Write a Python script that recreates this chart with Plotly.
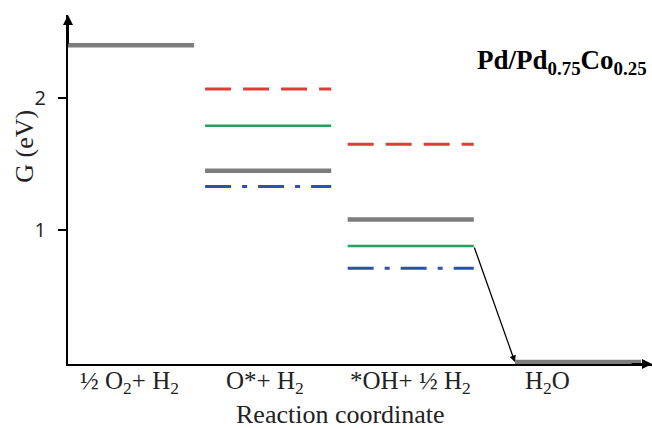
import plotly.graph_objects as go

# Reaction stages (x start of each energy level, in reaction-coordinate units)
stages = ["½ O<sub>2</sub>+ H<sub>2</sub>", "O*+ H<sub>2</sub>", "*OH+ ½ H<sub>2</sub>", "H<sub>2</sub>O"]
stage_start = [0.0, 1.0, 2.04, 3.26]
level_width = 0.92
label_pos = [0.45, 1.44, 2.50, 3.50]

# Free energies (eV) for each series
gray_vals = [2.40, 1.45, 1.08, 0.0]
red_vals = [None, 2.07, 1.65, None]
green_vals = [None, 1.79, 0.88, None]
blue_vals = [None, 1.33, 0.71, None]

series = [
    (red_vals, "#e23a36", 3, "26px,12px"),
    (green_vals, "#22a05e", 2.5, "solid"),
    (gray_vals, "#7c7c7c", 4.5, "solid"),
    (blue_vals, "#2d52a8", 3, "26px,11px,5px,11px"),
]

fig = go.Figure()
for vals, color, w, dash in series:
    xs, ys = [], []
    for s, v in zip(stage_start, vals):
        if v is None:
            continue
        xs += [s, s + level_width, None]
        ys += [v, v, None]
    fig.add_trace(go.Scatter(x=xs, y=ys, mode="lines",
                             line=dict(color=color, width=w, dash=dash),
                             hoverinfo="skip", showlegend=False))

# Drop arrow from *OH (green) to H2O
fig.add_annotation(x=stage_start[3], y=gray_vals[3], ax=stage_start[2] + level_width, ay=green_vals[2],
                   xref="x", yref="y", axref="x", ayref="y", showarrow=True,
                   arrowhead=2, arrowsize=1, arrowwidth=1.3, arrowcolor="black", text="")

# Axis arrows
fig.add_annotation(x=0, y=2.63, ax=0, ay=2.4, xref="x", yref="y", axref="x", ayref="y",
                   showarrow=True, arrowhead=2, arrowsize=1, arrowwidth=2, arrowcolor="black", text="")
fig.add_annotation(x=4.26, y=-0.015, ax=4.1, ay=-0.015, xref="x", yref="y", axref="x", ayref="y",
                   showarrow=True, arrowhead=2, arrowsize=1, arrowwidth=2, arrowcolor="black", text="")

serif = "Liberation Serif"

# Stage labels along the reaction coordinate
for pos, lab in zip(label_pos, stages):
    fig.add_annotation(text=lab, x=pos, xref="x", y=-0.052, yref="paper", showarrow=False,
                       xanchor="center", yanchor="middle",
                       font=dict(family=serif, size=25, color="#222"))

fig.add_annotation(text="<b>Pd/Pd<sub>0.75</sub>Co<sub>0.25</sub></b>", x=(649 - 68) / 584, xref="paper",
                   y=0.865, yref="paper", showarrow=False, xanchor="right", yanchor="middle",
                   font=dict(family=serif, size=27, color="black"))

fig.add_annotation(text="Reaction coordinate", x=0.466, y=-0.145, xref="paper", yref="paper",
                   showarrow=False, xanchor="center", yanchor="middle",
                   font=dict(family=serif, size=26, color="#222"))
fig.add_annotation(text="G (eV)", x=-0.074, y=0.625, xref="paper", yref="paper", textangle=-90,
                   showarrow=False, xanchor="center", yanchor="middle",
                   font=dict(family=serif, size=26, color="#222"))

fig.update_layout(
    width=652, height=429,
    margin=dict(l=68, r=0, t=15, b=65),
    plot_bgcolor="white", paper_bgcolor="white",
    xaxis=dict(range=[0, 4.26], showline=True, linecolor="black", linewidth=2,
               showgrid=False, zeroline=False, ticks="", showticklabels=False),
    yaxis=dict(range=[-0.015, 2.63], showline=True, linecolor="black", linewidth=2,
               showgrid=False, zeroline=False, ticks="outside", ticklen=8, tickwidth=1.5,
               tickcolor="black", tickvals=[1, 2], ticktext=["1", "2"], ticklabelstandoff=8,
               tickfont=dict(family="Open Sans", size=20, color="#222")),
)

fig.write_html("out.html")
